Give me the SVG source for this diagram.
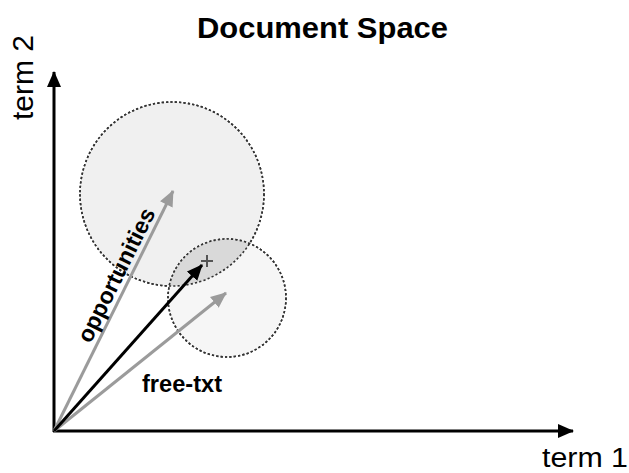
<svg xmlns="http://www.w3.org/2000/svg" width="629" height="473" viewBox="0 0 629 473">
<style>
.lbl{font-family:"Liberation Sans",Arial,sans-serif;fill:#000}
.b{font-weight:bold}
.circ{stroke:#333;stroke-width:1.6;stroke-dasharray:2.2 2.2}
</style>
<defs>
<marker id="ah-k" markerUnits="userSpaceOnUse" markerWidth="16" markerHeight="14" refX="15" refY="7" orient="auto"><path d="M0,0 L16,7 L0,14 Z" fill="#000"/></marker>
<marker id="ah-g" markerUnits="userSpaceOnUse" markerWidth="16" markerHeight="14" refX="15" refY="7" orient="auto"><path d="M0,0 L16,7 L0,14 Z" fill="#9b9b9b"/></marker>
<clipPath id="clipBig"><circle cx="172" cy="194" r="92"/></clipPath>
</defs>
<rect width="629" height="473" fill="#fff"/>
<text class="lbl b" x="197" y="38" font-size="30" textLength="251" lengthAdjust="spacingAndGlyphs">Document Space</text>
<g id="circle-opportunities">
<circle class="circ" cx="172" cy="194" r="92" fill="#f0f0f0"/>
</g>
<g id="circle-freetxt">
<circle class="circ" cx="227" cy="298" r="59" fill="#f6f6f6"/>
</g>
<g id="overlap">
<circle cx="227" cy="298" r="59" fill="#d9d9d9" clip-path="url(#clipBig)"/>
<circle class="circ" cx="172" cy="194" r="92" fill="none"/>
<circle class="circ" cx="227" cy="298" r="59" fill="none"/>
</g>
<g id="axes">
<line x1="54" y1="432" x2="54" y2="72" stroke="#000" stroke-width="3" marker-end="url(#ah-k)"/>
<line x1="53" y1="431" x2="573" y2="431" stroke="#000" stroke-width="3" marker-end="url(#ah-k)"/>
<text class="lbl" transform="translate(33,120) rotate(-90)" font-size="29" textLength="85" lengthAdjust="spacingAndGlyphs">term 2</text>
<text class="lbl" x="542" y="467" font-size="27" textLength="86" lengthAdjust="spacingAndGlyphs">term 1</text>
</g>
<g id="connectors">
<line x1="54" y1="431" x2="173" y2="191" stroke="#9b9b9b" stroke-width="3" marker-end="url(#ah-g)"/>
<line x1="54" y1="431" x2="226" y2="293" stroke="#9b9b9b" stroke-width="3" marker-end="url(#ah-g)"/>
<line x1="54" y1="431" x2="202" y2="265" stroke="#000" stroke-width="3" marker-end="url(#ah-k)"/>
</g>
<g id="query-point">
<path d="M207,255 V267 M201,261 H213" stroke="#555" stroke-width="2"/>
</g>
<text class="lbl b" transform="translate(116,275) rotate(-63.6)" y="8" font-size="23" text-anchor="middle">opportunities</text>
<text class="lbl b" x="142" y="392" font-size="23" textLength="80" lengthAdjust="spacingAndGlyphs">free-txt</text>
</svg>
